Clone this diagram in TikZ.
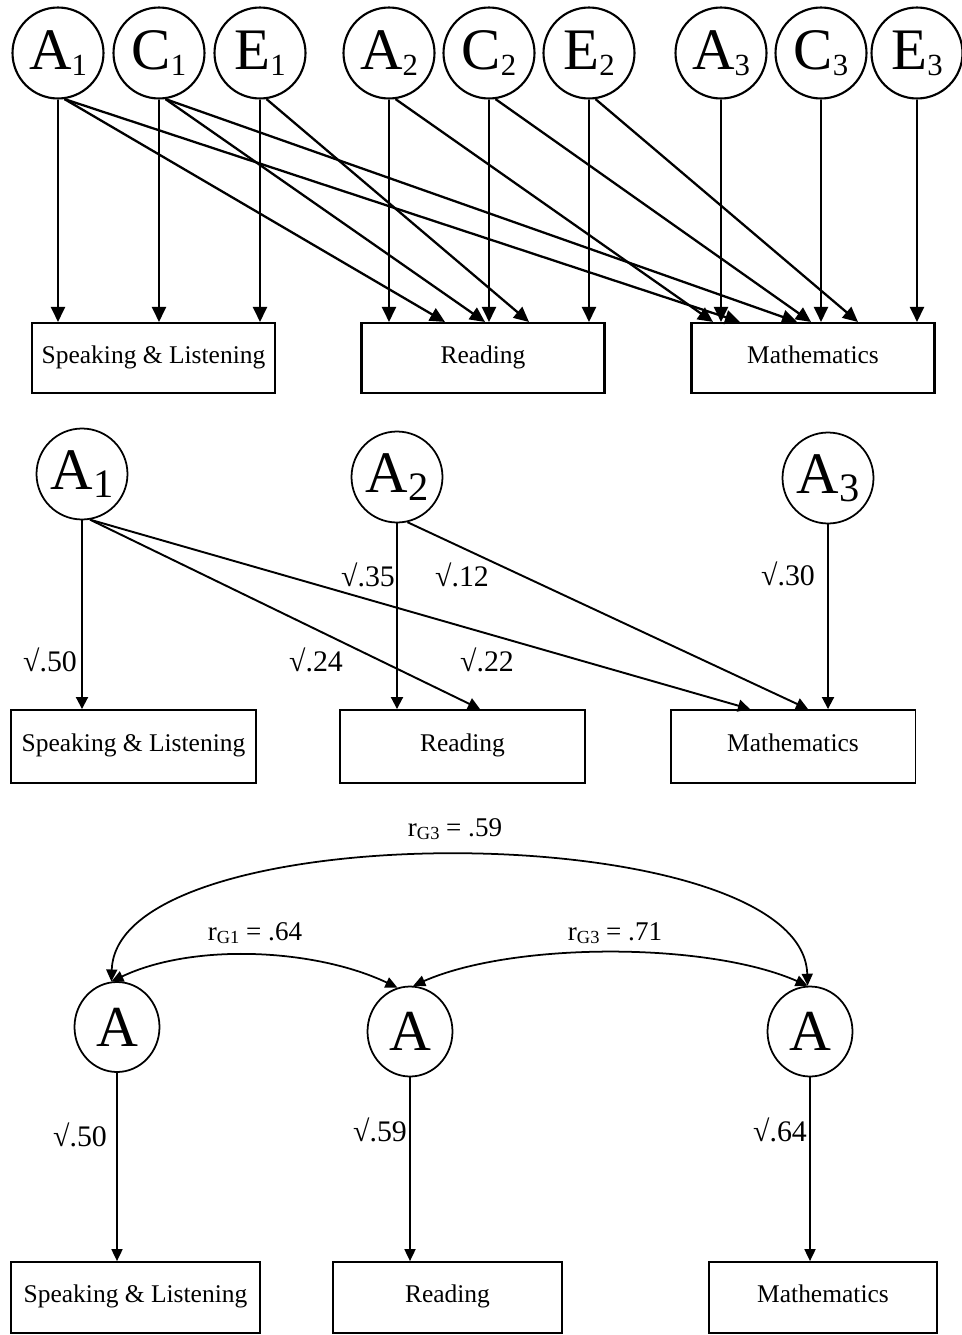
\documentclass[tikz,border=0pt]{standalone}
\usepackage{fontspec}
\setmainfont{Liberation Serif}
\usetikzlibrary{arrows.meta,shapes.geometric}

\newcommand{\subx}[2]{{\fontsize{#1}{#1}\selectfont\raisebox{-0.2em}{#2}}}

\tikzset{
  latent/.style={draw, circle, minimum size=1.82cm, inner sep=0pt, line width=1.2pt, font=\fontsize{33.5}{36}\selectfont},
  gen/.style={draw, ellipse, minimum width=1.7cm, minimum height=1.8cm, inner sep=0pt, line width=1pt, font=\fontsize{33}{36}\selectfont},
  score/.style={draw, rectangle, minimum width=4.86cm, minimum height=1.4cm, inner sep=0pt, text height=8pt, text depth=2pt, font=\fontsize{14.5}{16}\selectfont},
  path1/.style={line width=1.3pt, -{Triangle[length=0.3cm, width=0.28cm]}},
  path2/.style={line width=1.1pt, -{Triangle[length=0.24cm, width=0.24cm]}},
  path3/.style={line width=1pt, -{Triangle[length=0.24cm, width=0.22cm]}},
  corr/.style={line width=1pt, {Triangle[length=0.24cm, width=0.22cm]}-{Triangle[length=0.24cm, width=0.22cm]}},
  wt/.style={font=\fontsize{17}{20}\selectfont},
  rlab/.style={font=\fontsize{15.4}{18}\selectfont}
}

\begin{document}
\begin{tikzpicture}[x=0.02cm, y=-0.02cm]
\useasboundingbox (0,0) rectangle (961,1335);

% full ACE model
\foreach \l/\i/\x in {A/1/58, C/1/159, E/1/260, A/2/389, C/2/489, E/2/589, A/3/721, C/3/821, E/3/917}{
	\node[latent] (\l\i) at (\x,53) {\l\subx{17.5}{\i}};
}
\node[score, line width=1.2pt] (SL1) at (153.5,358) {Speaking \& Listening};
\node[score, line width=1.2pt] (RD1) at (483,358) {Reading};
\node[score, line width=1.2pt] (MA1) at (813,358) {Mathematics};

\foreach \s/\b in {A1/SL1, C1/SL1, E1/SL1, A2/RD1, C2/RD1, E2/RD1, A3/MA1, C3/MA1, E3/MA1}{
	\draw[path1] (\s.south) -- (\s.south |- \b.north);
}
\foreach \s/\b/\x in {A1/RD1/445, A1/MA1/740, C1/RD1/485, C1/MA1/797, E1/RD1/529, A2/MA1/713, C2/MA1/811, E2/MA1/858}{
	\draw[path1] (\s.-82) -- (\x,0 |- \b.north);
}

% genetic paths only
\node[latent, line width=1pt] (a1) at (82,474) {A\subx{23}{1}};
\node[latent, line width=1pt] (a2) at (397,477) {A\subx{23}{2}};
\node[latent, line width=1pt] (a3) at (828,478) {A\subx{23}{3}};
\node[score, minimum width=4.9cm, minimum height=1.46cm, line width=1.1pt] (SL2) at (133.5,746.5) {Speaking \& Listening};
\node[score, minimum width=4.9cm, minimum height=1.46cm, line width=1.1pt] (RD2) at (462.5,746.5) {Reading};
\node[score, minimum width=4.9cm, minimum height=1.46cm, line width=1.1pt] (MA2) at (793,746.5) {Mathematics};

\draw[path2] (a1.south) -- (a1.south |- SL2.north);
\draw[path2] (a2.south) -- (a2.south |- RD2.north);
\draw[path2] (a3.south) -- (a3.south |- MA2.north);
\draw[path2] (a1.-80) -- (480,0 |- RD2.north);
\draw[path2] (a1.-80) -- (750,0 |- MA2.north);
\draw[path2] (a2.-77) -- (808,0 |- MA2.north);

\node[wt] (w1) at (50,660) {√.50};
\node[wt] (w2) at (316,660) {√.24};
\node[wt] (w3) at (368,575) {√.35};
\node[wt] (w4) at (462,575) {√.12};
\node[wt] (w5) at (487,660) {√.22};
\node[wt] (w6) at (788,574) {√.30};

% correlated factors
\node[gen] (g1) at (117,1027) {A};
\node[gen] (g2) at (410,1031.5) {A};
\node[gen] (g3) at (810,1031.5) {A};
\node[score, minimum width=4.98cm, minimum height=1.42cm, line width=1pt] (SL3) at (135.5,1297.5) {Speaking \& Listening};
\node[score, minimum width=4.58cm, minimum height=1.42cm, line width=1pt] (RD3) at (447.5,1297.5) {Reading};
\node[score, minimum width=4.56cm, minimum height=1.42cm, line width=1pt] (MA3) at (823,1297.5) {Mathematics};

\draw[path3] (g1.south) -- (g1.south |- SL3.north);
\draw[path3] (g2.south) -- (g2.south |- RD3.north);
\draw[path3] (g3.south) -- (g3.south |- MA3.north);

\draw[corr] (g1.97) .. controls +(5,-170) and +(-5,-170) .. (g3.93);
\draw[corr] (g1.97) .. controls +(82,-39) and +(-82,-39) .. (g2.106);
\draw[corr] (g2.86) .. controls +(100,-44) and +(-100,-44) .. (g3.93);

\node[rlab] (r3) at (455,829) {r\subx{10.5}{G3} = .59};
\node[rlab] (r1) at (255,933) {r\subx{10.5}{G1} = .64};
\node[rlab] (r2) at (615,933) {r\subx{10.5}{G3} = .71};

\node[wt] (v1) at (80,1135) {√.50};
\node[wt] (v2) at (380,1130) {√.59};
\node[wt] (v3) at (780,1130) {√.64};
\end{tikzpicture}
\end{document}
